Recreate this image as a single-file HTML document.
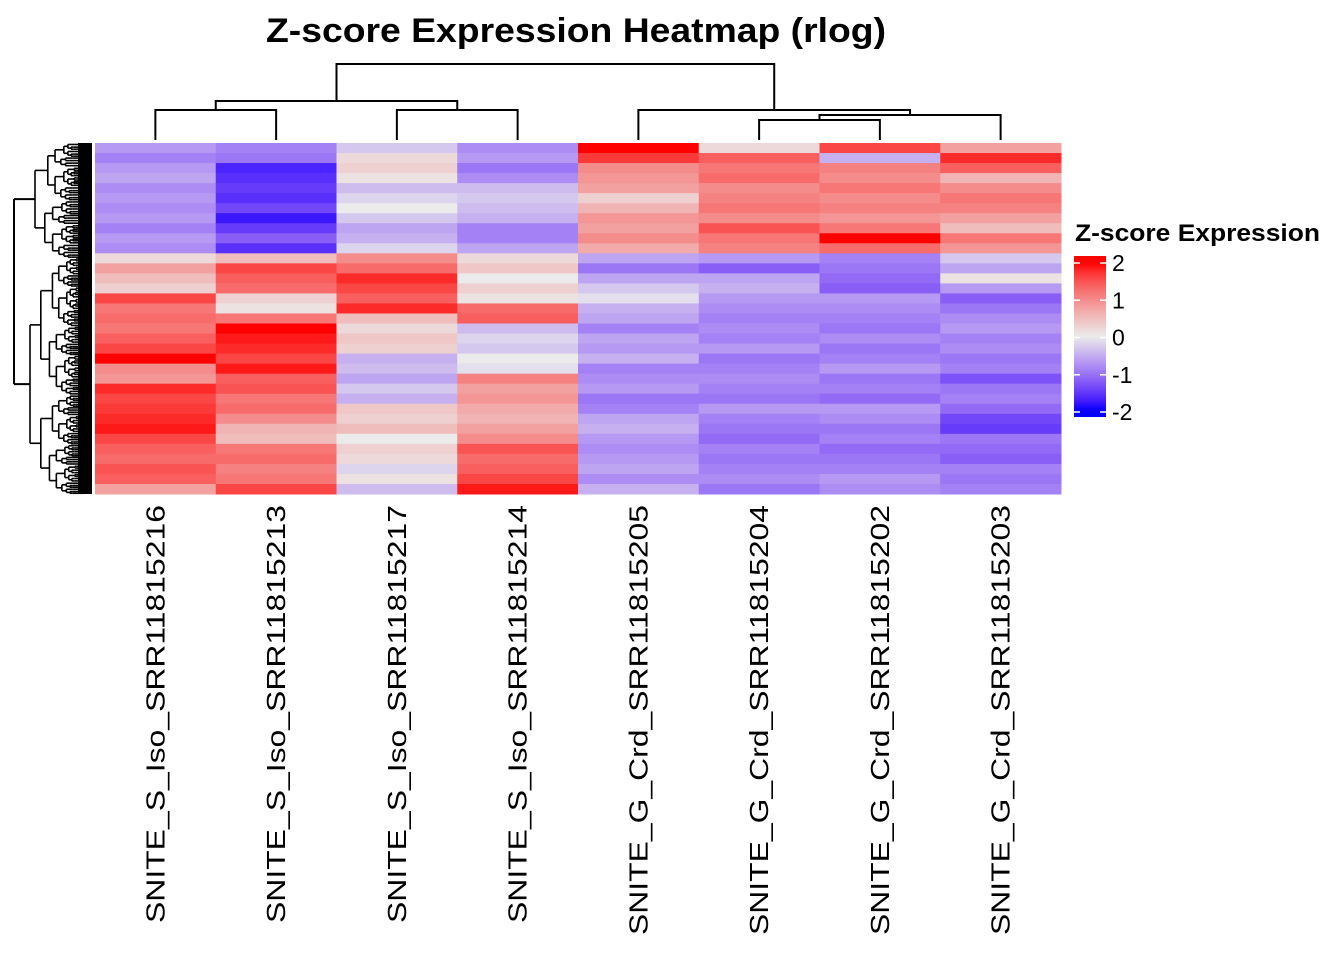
<!DOCTYPE html>
<html><head><meta charset="utf-8"><style>
html,body{margin:0;padding:0;background:#fff;}
svg{display:block;font-family:"Liberation Sans",Arial,sans-serif;}
</style></head><body>
<svg id="chart" width="1344" height="960" viewBox="0 0 1344 960" xmlns="http://www.w3.org/2000/svg">
<text x="576" y="42" text-anchor="middle" font-size="34" font-weight="bold" textLength="620" lengthAdjust="spacingAndGlyphs">Z-score Expression Heatmap (rlog)</text>
<g id="coldend" stroke="#000" stroke-width="2" fill="none"></g>
<g id="rowdend" stroke="#000" stroke-width="1.6" fill="none"></g>
<g id="cells"></g>
<g id="labels"></g>
<g id="legend">
<text x="1075" y="241" font-size="24" font-weight="bold" textLength="245" lengthAdjust="spacingAndGlyphs">Z-score Expression</text>
</g>
</svg>
<script>
const samples = ["SNITE_S_Iso_SRR11815216","SNITE_S_Iso_SRR11815213","SNITE_S_Iso_SRR11815217","SNITE_S_Iso_SRR11815214","SNITE_G_Crd_SRR11815205","SNITE_G_Crd_SRR11815204","SNITE_G_Crd_SRR11815202","SNITE_G_Crd_SRR11815203"];
const col1 = [-0.7,-0.9,-0.7,-0.6,-0.8,-0.7,-0.8,-0.7,-0.9,-0.7,-0.8,0.2,0.8,0.5,0.3,1.6,1.2,1.3,1.2,1.4,1.6,2.0,1.0,0.9,1.8,1.6,1.7,1.8,1.9,1.6,1.4,1.3,1.5,1.4,0.8];
const col2 = [-0.9,-1.0,-1.7,-1.6,-1.5,-1.6,-1.4,-1.8,-1.5,-1.2,-1.6,0.5,1.6,1.4,1.3,0.3,0.1,1.2,2.0,1.9,1.8,1.6,1.9,1.4,1.5,1.2,1.3,1.0,0.6,0.5,1.2,1.3,1.1,1.2,1.6];
const col3 = [-0.3,0.2,0.3,0.1,-0.4,-0.2,0.0,-0.3,-0.6,-0.5,-0.2,1.0,1.3,1.8,1.6,1.4,1.8,0.5,0.2,0.4,0.3,-0.5,-0.4,-0.6,-0.3,-0.5,0.4,0.3,0.5,0.0,0.3,0.2,-0.2,0.1,-0.4];
const col4 = [-0.8,-0.7,-1.0,-0.8,-0.4,-0.3,-0.4,-0.5,-0.9,-0.9,-0.6,0.2,0.4,0.0,0.3,0.1,1.3,1.4,-0.4,-0.2,-0.3,0.0,-0.1,1.1,0.8,0.9,0.7,0.6,0.8,1.0,1.5,1.3,1.4,1.6,1.9];
const col5 = [2.0,1.7,1.0,0.9,0.8,0.3,0.6,0.9,0.8,1.0,0.7,-0.6,-1.0,-0.6,-0.3,-0.1,-0.5,-0.6,-0.9,-0.6,-0.7,-0.5,-0.9,-0.8,-0.7,-1.0,-0.9,-0.6,-0.5,-0.7,-0.8,-0.7,-0.6,-0.8,-0.5];
const col6 = [0.2,1.4,1.2,1.3,1.0,1.1,1.2,1.0,1.5,1.2,1.1,-0.7,-1.2,-0.6,-0.5,-0.7,-0.8,-0.9,-0.8,-0.9,-0.7,-1.0,-0.9,-0.8,-0.9,-1.0,-0.7,-0.9,-1.0,-1.1,-0.9,-1.0,-0.9,-0.8,-1.0];
const col7 = [1.6,-0.5,1.1,1.0,1.2,1.0,1.1,0.9,1.2,2.0,1.3,-0.9,-1.0,-1.1,-1.2,-0.7,-0.8,-0.9,-1.0,-0.8,-1.0,-0.9,-0.7,-1.0,-0.9,-1.1,-0.7,-0.8,-1.0,-0.9,-1.1,-1.0,-0.9,-0.7,-0.8];
const col8 = [0.8,1.8,1.4,0.6,1.0,1.2,1.1,0.8,0.5,1.2,0.9,-0.3,-0.6,0.1,-0.7,-1.2,-1.0,-0.8,-0.7,-0.9,-0.8,-1.0,-0.9,-1.3,-1.0,-0.9,-1.1,-1.4,-1.5,-1.0,-1.1,-1.2,-0.9,-1.0,-0.9];
const legendTicks = [2,1,0,-1,-2];

const NS = "http://www.w3.org/2000/svg";
const cols = [col1,col2,col3,col4,col5,col6,col7,col8];
const HX = 95, HW = 966, HY = 143, HH = 351;
const cw = HW / samples.length;
const nRows = col1.length;
const rh = HH / nRows;
function xCol(i){ return HX + i*cw; }
function yRow(r){ return HY + r*rh; }
function color(v){
  let t = Math.max(-1, Math.min(1, v/2));
  let r,g,b;
  if (t < 0) { t = -t; r = 235*Math.pow(1-t,0.6); g = 235*(1-t); b = 235+20*t; }
  else { r = 235+20*t; g = 235*Math.pow(1-t,0.75); b = g; }
  return `rgb(${Math.round(r)},${Math.round(g)},${Math.round(b)})`;
}
function mk(tag, attrs, parent){
  const e = document.createElementNS(NS, tag);
  for (const k in attrs) e.setAttribute(k, attrs[k]);
  parent.appendChild(e); return e;
}
const cells = document.getElementById('cells');
cols.forEach((arr, ci) => {
  arr.forEach((v, ri) => {
    const rc = mk('rect', {x: xCol(ci), y: yRow(ri), width: cw+0.5, height: rh+0.5, fill: color(v)}, cells);
    
    
  });
});
const labels = document.getElementById('labels');
samples.forEach((s, i) => {
  const cx = xCol(i) + cw/2 + 9;
  const t = mk('text', {x: 0, y: 0, transform: `translate(${cx},505) rotate(-90)`, 'text-anchor': 'end', 'font-size': 26, textLength: s.includes('_G_') ? 430 : 418, lengthAdjust: 'spacingAndGlyphs'}, labels);
  t.textContent = s;
  
  
});
const cd = document.getElementById('coldend');
function cxc(i){ return xCol(i) + cw/2; }
function seg(p, d){ return mk('path', {d: d}, p); }
seg(cd, `M${cxc(0)},140 V110 H${cxc(1)} V140`);
seg(cd, `M${cxc(2)},140 V110 H${cxc(3)} V140`);
seg(cd, `M${(cxc(0)+cxc(1))/2},110 V101 H${(cxc(2)+cxc(3))/2} V110`);
seg(cd, `M${cxc(5)},140 V120 H${cxc(6)} V140`);
seg(cd, `M${(cxc(5)+cxc(6))/2},120 V115 H${cxc(7)} V140`);
seg(cd, `M${cxc(4)},140 V110 H${((cxc(5)+cxc(6))/2+cxc(7))/2} V115`);
const lc = ((cxc(0)+cxc(1))/2 + (cxc(2)+cxc(3))/2)/2;
const rc2 = (cxc(4) + ((cxc(5)+cxc(6))/2+cxc(7))/2)/2;
seg(cd, `M${lc},101 V64 H${rc2} V110`);
const rd = document.getElementById('rowdend');
function tree(x, y0, y1, depth){
  const ym = (y0+y1)/2;
  if (depth === 0 || y1 - y0 < 3) { seg(rd, `M${x},${ym} H84`); return ym; }
  const split = y0 + (y1-y0)*(0.42 + 0.16*((depth*7)%3)/2);
  const nx = x + (84-x)*0.2;
  const a = tree(nx + ((depth%2)*3), y0, split, depth-1);
  const b = tree(nx, split, y1, depth-1);
  seg(rd, `M${x},${a} V${b}`);
  seg(rd, `M${x},${a} H${nx + ((depth%2)*3)}`);
  seg(rd, `M${x},${b} H${nx}`);
  return (a+b)/2;
}
const topNode = tree(35, 143, 258, 7);
const botNode = tree(30, 258, 494, 8);
seg(rd, `M14,${topNode} V${botNode} M14,${topNode} H35 M14,${botNode} H30`).setAttribute('stroke-width','2');
mk('rect', {x: 78, y: 143, width: 14, height: 351, fill: '#000', stroke: 'none'}, rd);
const lg = document.getElementById('legend');
const defs = mk('defs', {}, lg);
const grad = mk('linearGradient', {id: 'lgrad', x1: 0, y1: 0, x2: 0, y2: 1}, defs);
for (let k = 0; k <= 20; k++) {
  const v = 2.2 - 4.4*k/20;
  mk('stop', {offset: (k/20), 'stop-color': color(v)}, grad);
}
const LY0 = 256, LY1 = 417;
function yLeg(v){ return 263 + (2 - v) * (412-263)/4; }
const bar = mk('rect', {x: 1074, y: LY0, width: 32, height: LY1-LY0, fill: 'url(#lgrad)'}, lg);


legendTicks.forEach(v => {
  const y = yLeg(v);
  mk('line', {x1: 1074, x2: 1080, y1: y, y2: y, stroke: '#fff', 'stroke-width': 1.5}, lg);
  mk('line', {x1: 1100, x2: 1106, y1: y, y2: y, stroke: '#fff', 'stroke-width': 1.5}, lg);
  const t = mk('text', {x: 1112, y: y + 8, 'font-size': 23}, lg);
  t.textContent = String(v);
  
  
});
</script>
</body></html>
